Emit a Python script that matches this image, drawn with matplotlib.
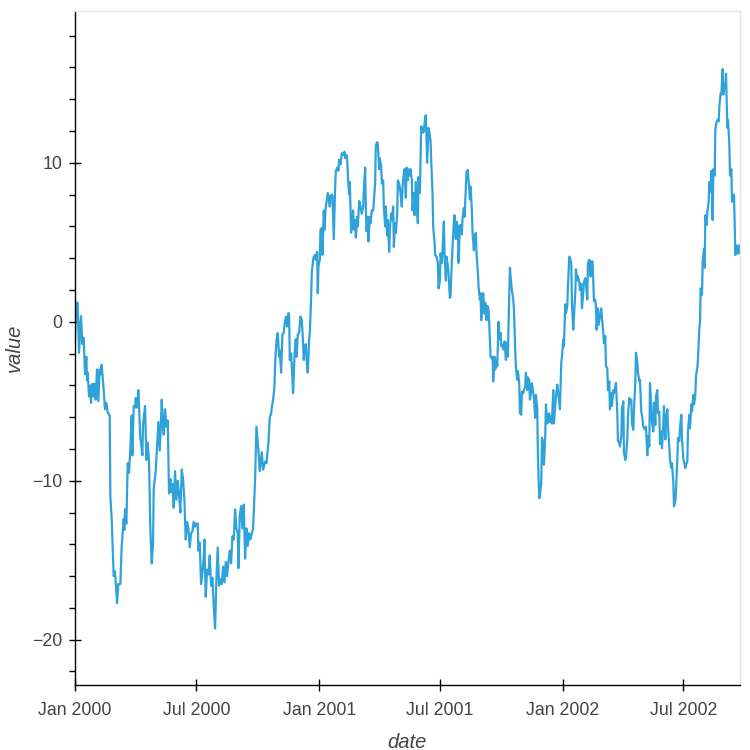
import pandas as pd
import matplotlib
matplotlib.use('Agg')
import matplotlib.pyplot as plt
import matplotlib.dates as mdates
from matplotlib.ticker import MultipleLocator

plt.rcParams['font.family'] = ['Liberation Sans', 'DejaVu Sans']

start = pd.Timestamp('2000-01-01')

# day offsets from start
days = [
    0, 2, 4, 6, 9, 11, 13, 15, 17, 18, 19, 21, 23, 24, 26, 28, 29, 31, 33, 35,
    37, 38, 40, 43, 45, 47, 49, 52, 53, 55, 58, 60, 63, 65, 68, 70, 73, 74, 75, 77,
    79, 81, 83, 85, 86, 88, 90, 91, 93, 95, 96, 98, 99, 101, 102, 105, 107, 109, 111, 113,
    115, 117, 118, 121,
    125, 127, 129, 130, 132, 133, 135, 137, 139, 141, 143, 144, 146, 148, 150, 152, 154, 156, 158, 160,
    162, 164, 166, 168, 170, 172, 174, 176, 178, 180, 182, 184, 185, 187, 189, 191, 193, 194, 196, 198,
    200, 202, 204, 206, 208, 210, 212, 214, 216, 218, 220, 222, 224, 226, 228, 230, 232, 234, 236, 238,
    240, 242, 244, 245, 247, 249, 251, 253, 255, 257, 259, 261, 263, 267,
    270, 272, 275, 277, 280, 282, 285, 287, 290, 292, 294, 295, 297, 299, 300, 302, 304, 306, 307, 309,
    311, 313, 315, 317, 318, 320, 321, 322, 324, 326, 327, 329, 331, 332, 334, 336, 338, 340, 341, 343,
    344, 346, 348, 349, 351, 352, 354, 355, 357, 358, 360, 361, 363, 364, 365, 367, 368, 370, 371, 373,
    374, 376, 377, 379, 380, 382, 383, 385, 386, 388, 390,
    391, 393, 395, 396, 398, 400, 402, 404, 405, 407, 408, 410, 411, 412, 414, 415, 417, 418, 420, 421,
    423, 424, 426, 427, 429, 430, 432, 433, 435, 436, 437, 439, 440, 442, 443, 445, 447, 448, 450, 451,
    453, 454, 456, 457, 459, 460, 462, 463, 465, 466, 468, 469, 471, 472, 474, 475, 477, 478, 480, 481,
    483, 484, 486, 488, 490, 491, 493, 494, 496, 497, 499, 500, 502, 503,
    505, 506, 508, 509, 511, 512, 514, 515, 517,
    519, 520, 522, 523, 525, 526, 527, 528, 530, 531, 533, 534, 536, 537, 539, 540, 542, 544, 545, 547,
    548, 550, 551, 553, 554, 556, 557, 559, 560, 562, 563, 565, 566, 568, 569, 571, 572, 574, 575, 577,
    578, 580, 581, 583, 584, 586, 587, 589, 590, 592, 593, 595, 596, 598, 599, 601, 602, 604, 605, 607,
    608, 609, 611, 612, 614, 615, 617, 618, 620, 621, 623, 625, 626, 627, 629, 630, 632, 633, 635, 636,
    638, 639, 641, 642,
    644, 646, 647, 649, 650, 652, 654, 655, 657, 658, 660, 661, 663, 664, 666, 667, 669, 670, 672, 673,
    675, 676, 678, 679, 681, 682, 684, 685, 687, 688, 690, 691, 693, 694, 696, 697, 699, 700, 702, 703,
    705, 706, 708, 709, 711, 712, 714, 715, 717, 718, 720, 721, 723, 724, 726, 727, 729, 730, 732, 733,
    735, 736, 738, 739, 741, 742, 744, 745, 747, 748, 750, 751, 753, 754, 756, 757, 759, 760, 762, 763,
    765, 766, 768, 769, 771, 772,
    773, 774, 776, 777, 778, 780, 781, 782, 784, 785, 787, 789, 790, 792, 793, 795, 796, 798, 799, 801,
    802, 804, 805, 807, 808, 810, 811, 813, 814, 816, 817, 819, 820, 822, 823, 825, 826, 828, 829, 831,
    832, 834, 835, 837, 838, 840, 841, 843, 844, 846, 847, 849, 850, 852, 853, 855, 856, 858, 859, 861,
    862, 864, 865, 867, 868, 870, 871, 873, 874, 876, 877, 879, 880, 882, 883, 885, 886, 888, 889, 891,
    892, 894, 895, 897, 898, 900,
    901, 903, 904, 906, 907, 909, 910, 912, 913, 915, 916, 918, 919, 921, 922, 924, 925, 927, 928, 930,
    931, 933, 934, 936, 937, 938, 940, 941, 943, 944, 945, 947, 948, 950, 951, 953, 954, 956, 957, 959,
    960, 962, 963, 965, 966, 968, 969, 971, 972, 973, 975, 976, 978, 979, 981, 982, 984, 985, 987, 988,
    990, 991, 993, 994, 996, 997,
]

values = [
    -1.1, 1.2, 1.2, -1.95, 0.36, -1.4, -1.0, -3.3, -2.2, -3.7, -3.2, -4.7, -4.0, -5.1, -3.9, -4.7, -3.9, -4.9, -3.0, -5.0,
    -3.0, -3.3, -2.7, -4.3, -5.5, -5.1, -5.7, -5.9, -11.0, -12.4, -16.0, -15.7, -17.7, -16.5, -16.5, -14.1, -12.4, -13.1, -11.8, -12.7,
    -8.9, -9.5, -8.0, -5.9, -8.4, -5.3, -5.4, -4.8, -5.4, -4.3, -5.3, -7.4, -7.6, -8.4, -6.5, -5.3, -8.7, -7.6, -8.8, -13.1,
    -15.2, -13.9, -10.5, -9.4,
    -6.3, -8.1, -6.2, -4.9, -6.6, -7.1, -5.5, -6.6, -6.2, -10.8, -9.9, -10.7, -10.2, -11.7, -9.4, -11.2, -10.0, -10.9, -12.0, -9.3,
    -9.9, -11.2, -13.7, -12.6, -13.0, -14.2, -13.3, -13.2, -12.6, -12.9, -12.7, -12.7, -14.4, -13.9, -16.5, -15.8, -14.8, -13.7, -17.3, -15.6,
    -15.9, -14.7, -16.6, -16.1, -17.9, -19.3, -16.2, -14.2, -16.6, -16.2, -16.5, -15.4, -16.4, -15.1, -16.0, -15.1, -14.4, -15.2, -13.5, -13.7,
    -11.8, -13.0, -13.3, -15.5, -12.2, -11.6, -13.0, -11.5, -14.9, -13.0, -14.1, -13.3, -13.7, -13.0,
    -9.9, -6.6, -8.1, -9.4, -8.2, -9.3, -8.8, -8.9, -7.6, -6.0, -5.8, -5.4, -4.9, -4.1, -2.6, -1.2, -0.7, -2.2, -1.8, -3.2,
    -0.8, -0.7, 0.1, 0.33, -0.3, 0.55, 0.4, -2.4, -2.0, -3.6, -4.5, -2.2, -1.1, -2.2, -0.8, -0.7, 0.33, 0.1, -0.6, -2.4,
    -1.6, -1.4, -2.9, -3.2, -1.1, -0.7, 1.5, 3.1, 3.9, 4.1, 4.2, 3.9, 4.4, 1.8, 3.5, 3.9, 5.8, 5.9, 4.2, 7.0,
    5.8, 7.25, 7.5, 8.1, 7.9, 7.25, 7.9, 8.0, 7.9, 5.2, 8.5,
    9.45, 9.7, 9.5, 10.2, 9.9, 10.6, 10.5, 10.7, 10.3, 10.5, 10.2, 8.5, 8.0, 8.8, 5.6, 6.4, 7.0, 5.8, 6.4, 5.3,
    6.6, 6.0, 7.6, 7.5, 7.0, 6.8, 7.25, 8.3, 9.7, 7.25, 5.7, 6.6, 5.05, 6.6, 6.2, 7.0, 7.0, 7.6, 8.7, 11.1,
    11.3, 11.2, 9.6, 10.3, 9.8, 8.7, 8.9, 7.25, 6.0, 7.25, 5.4, 6.4, 4.4, 5.8, 6.8, 6.4, 7.25, 4.7, 6.2, 5.6,
    6.8, 8.9, 8.7, 8.1, 7.25, 8.5, 9.35, 9.6, 7.8, 9.7, 8.9, 9.6, 9.2, 9.6,
    8.9, 7.0, 8.1, 6.7, 8.8, 7.7, 6.2, 9.1, 8.1,
    12.3, 12.2, 11.9, 12.0, 12.9, 13.0, 11.4, 10.0, 12.2, 12.0, 11.4, 10.2, 8.1, 6.0, 5.0, 4.2, 4.1, 3.7, 2.1, 2.6,
    4.3, 3.7, 4.5, 6.3, 4.3, 2.6, 4.1, 3.5, 3.0, 1.5, 1.6, 3.9, 4.7, 6.3, 6.7, 5.2, 6.3, 6.0, 3.7, 6.0,
    6.1, 5.5, 6.5, 7.15, 6.6, 8.5, 9.45, 9.55, 8.9, 7.7, 8.5, 7.0, 5.6, 4.5, 5.4, 5.6, 4.3, 3.1, 2.2, 1.4,
    1.8, 0.1, 1.4, 1.8, 0.5, 1.2, 0.1, 1.0, 0.8, -0.1, -2.2, -2.3, -2.2, -3.75, -2.2, -3.0, -2.4, -2.8, 0.0, -1.1,
    -0.7, -1.55, -1.45, -1.75,
    -1.24, -2.4, -1.3, -2.2, -0.1, 3.4, 2.4, 2.0, 1.4, 0.85, -1.8, -2.9, -3.65, -3.1, -3.9, -5.75, -5.85, -4.4, -4.5, -4.3,
    -4.1, -3.2, -4.3, -3.5, -3.65, -4.9, -4.3, -3.86, -4.5, -4.8, -6.05, -4.6, -5.5, -8.5, -11.1, -10.9, -10.15, -7.3, -7.6, -9.0,
    -7.2, -5.2, -6.4, -5.95, -5.75, -6.3, -5.95, -6.4, -4.3, -6.4, -5.3, -4.7, -3.95, -4.3, -5.1, -5.5, -2.6, -2.2, -1.1, -1.55,
    1.1, 0.55, 0.96, 2.2, 4.1, 4.0, 3.7, 1.2, -0.5, 0.33, 1.8, 3.3, 2.6, 2.85, 2.5, 2.0, 2.4, 0.85, 1.8, 2.5,
    2.75, 2.4, 1.4, 3.7, 3.9, 3.7,
    2.85, 3.8, 3.8, 2.6, 1.3, 1.4, 0.96, -0.5, 0.85, -0.2, 0.33, 0.85, 0.23, -0.7, -1.35, -0.9, -2.8, -2.9, -4.3, -3.75,
    -5.5, -4.5, -5.3, -4.3, -4.5, -4.1, -3.85, -5.75, -7.5, -7.6, -7.85, -7.2, -5.5, -5.0, -8.25, -8.7, -8.5, -7.4, -5.95, -4.8,
    -5.1, -4.9, -6.4, -6.8, -5.5, -3.85, -1.95, -2.5, -3.2, -3.75, -3.65, -5.7, -5.85, -6.6, -6.7, -6.8, -6.6, -8.4, -7.2, -7.85,
    -3.85, -5.5, -6.3, -6.9, -5.1, -6.5, -4.7, -4.3, -5.75, -5.65, -7.7, -6.9, -7.95, -6.4, -5.3, -7.4, -6.2, -5.5, -6.6, -7.85,
    -8.7, -9.2, -8.9, -10.1, -11.6, -11.3,
    -10.6, -8.6, -7.3, -7.5, -6.7, -5.85, -7.3, -8.6, -8.8, -9.2, -9.0, -8.8, -6.9, -5.85, -6.7, -5.2, -5.65, -4.6, -5.2, -4.6,
    -3.4, -2.9, -2.3, -0.4, 0.0, 2.1, 1.7, 3.75, 4.6, 3.4, 6.7, 6.1, 6.9, 7.55, 8.8, 8.2, 9.5, 6.4, 9.6, 9.2,
    12.1, 12.6, 12.7, 12.6, 13.5, 14.4, 14.3, 15.9, 14.3, 14.9, 14.7, 15.6, 12.2, 12.7, 11.15, 9.2, 9.6, 7.55, 7.9, 8.0,
    4.2, 4.8, 4.3, 4.8, 4.3, 4.8,
]

dates = start + pd.to_timedelta(days, unit='D')
text_col = '#444444'

fig = plt.figure(figsize=(7.5, 7.5), dpi=100)
ax = fig.add_axes([0.1, 0.0867, 0.8867, 0.8986])

ax.plot(dates, values, color='#30a2da', lw=1.6)

ax.set_xlim(dates[0], dates[-1])
ax.set_ylim(-22.85, 19.55)

ax.xaxis.set_major_locator(mdates.MonthLocator(bymonth=[1, 7]))
ax.xaxis.set_major_formatter(mdates.DateFormatter('%b %Y'))
ax.yaxis.set_major_locator(MultipleLocator(10))
ax.yaxis.set_minor_locator(MultipleLocator(2))

for s in ['top', 'right']:
    ax.spines[s].set_color('#e5e5e5')
    ax.spines[s].set_linewidth(1)
for s in ['left', 'bottom']:
    ax.spines[s].set_color('black')
    ax.spines[s].set_linewidth(1)

ax.tick_params(which='major', direction='inout', length=8, width=1,
               labelsize=12.8, labelcolor=text_col)
ax.tick_params(axis='x', which='major', pad=8)
ax.tick_params(axis='y', which='major', pad=5)
ax.tick_params(which='minor', direction='out', length=4, width=1)

ax.set_xlabel('date', fontsize=14.5, style='italic', color=text_col, labelpad=10)
ax.set_ylabel('value', fontsize=14.5, style='italic', color=text_col, labelpad=6)

fig.savefig('out.png', dpi=100)
